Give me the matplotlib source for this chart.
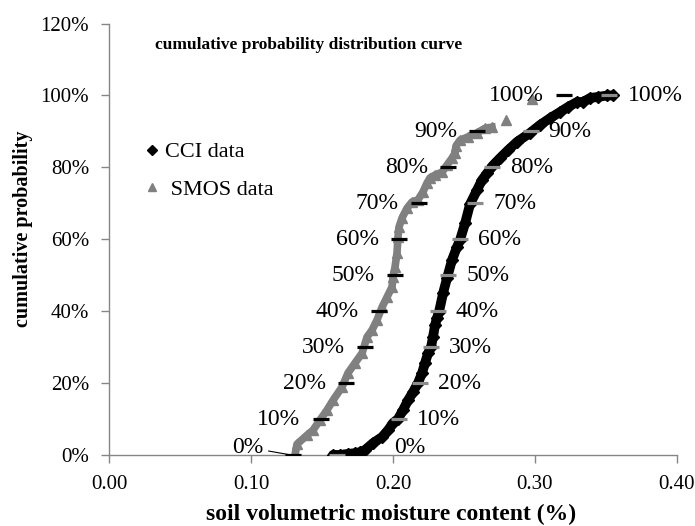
import matplotlib
matplotlib.use('Agg')
import matplotlib.pyplot as plt
from matplotlib.lines import Line2D
from matplotlib.ticker import FuncFormatter

plt.rcParams['font.family'] = ['Liberation Serif', 'DejaVu Serif']

# CCI points
cci_x = [0.1577, 0.1626, 0.1683, 0.1733, 0.1768, 0.1803, 0.1859, 0.1923, 0.1965, 0.2000,
         0.2035, 0.2071, 0.2106, 0.2141, 0.2176, 0.2205, 0.2226, 0.2247, 0.2268, 0.2282,
         0.2296, 0.2310, 0.2324, 0.2353, 0.2381, 0.2416, 0.2451, 0.2472, 0.2508, 0.2543,
         0.2592, 0.2627, 0.2663, 0.2705, 0.2754, 0.2811, 0.2874, 0.2966, 0.3036, 0.3107,
         0.3177, 0.3233, 0.3297, 0.3339, 0.3389, 0.3445, 0.3509, 0.3551]
cci_y = [0.001, 0.001, 0.004, 0.006, 0.009, 0.015, 0.034, 0.051, 0.070, 0.090,
         0.101, 0.126, 0.153, 0.176, 0.201, 0.229, 0.257, 0.284, 0.301, 0.329,
         0.362, 0.382, 0.398, 0.451, 0.493, 0.543, 0.579, 0.598, 0.645, 0.698,
         0.737, 0.765, 0.784, 0.806, 0.826, 0.848, 0.871, 0.896, 0.918, 0.937,
         0.954, 0.968, 0.982, 0.982, 0.993, 0.996, 1.000, 1.000]

# SMOS points
smos_x = [0.1309, 0.1323, 0.1394, 0.1436, 0.1485, 0.1535, 0.1577, 0.1641, 0.1683, 0.1733,
          0.1782, 0.1817, 0.1852, 0.1887, 0.1923, 0.1958, 0.1993, 0.2000, 0.2014, 0.2028,
          0.2035, 0.2042, 0.2064, 0.2099, 0.2134, 0.2176, 0.2211, 0.2240, 0.2261, 0.2296,
          0.2346, 0.2381, 0.2416, 0.2437, 0.2444, 0.2473, 0.2529, 0.2592, 0.2649, 0.2698,
          0.2797, 0.2980]
smos_y = [0.001, 0.031, 0.056, 0.070, 0.098, 0.126, 0.153, 0.190, 0.229, 0.257,
          0.284, 0.329, 0.348, 0.376, 0.412, 0.440, 0.468, 0.496, 0.523, 0.562,
          0.607, 0.634, 0.660, 0.687, 0.704, 0.710, 0.732, 0.757, 0.771, 0.779,
          0.787, 0.807, 0.826, 0.840, 0.860, 0.876, 0.885, 0.896, 0.909, 0.912,
          0.932, 0.991]

# decile marks
levels = [0.0, 0.1, 0.2, 0.3, 0.4, 0.5, 0.6, 0.7, 0.8, 0.9, 1.0]
level_labels = ['0%', '10%', '20%', '30%', '40%', '50%', '60%', '70%', '80%', '90%', '100%']
cci_dec = [0.1602, 0.2039, 0.2190, 0.2268, 0.2317, 0.2390, 0.2472, 0.2578, 0.2698, 0.2970, 0.3526]
smos_dec = [0.1295, 0.1489, 0.1669, 0.1803, 0.1901, 0.2014, 0.2039, 0.2180, 0.2391, 0.2592, 0.3202]

black = '#000000'
grey = '#808080'
dash_grey = '#8c8c8c'

fig = plt.figure(figsize=(6.95, 5.26), dpi=100)
ax = fig.add_axes([0.1573, 0.1344, 0.8164, 0.8209])

ax.plot(smos_x[:40], smos_y[:40], color=grey, lw=5.5, zorder=2)
ax.plot(smos_x, smos_y, '^', color=grey, ms=7.5, zorder=2)
ax.plot(cci_x, cci_y, color=black, lw=7, solid_capstyle='round', zorder=3)
ax.plot(cci_x, cci_y, 'D', color=black, ms=6, zorder=3)

ax.plot(smos_dec, levels, '_', color=black, ms=11.5, mew=2.3, zorder=4)
ax.plot(cci_dec, levels, '_', color=dash_grey, ms=11.5, mew=2.3, zorder=5)

lab_size = 17
for i in range(len(levels)):
    if i == 0:
        ax.annotate(level_labels[i], xy=(smos_dec[i], levels[i]), xytext=(-30, 8),
                    textcoords='offset pixels', ha='right', va='center', fontsize=lab_size,
                    arrowprops=dict(arrowstyle='-', color=black, lw=0.8,
                                    shrinkA=2, shrinkB=2))
        ax.annotate(level_labels[i], xy=(cci_dec[i], levels[i]), xytext=(58, 8),
                    textcoords='offset pixels', ha='left', va='center', fontsize=lab_size)
    else:
        ax.annotate(level_labels[i], xy=(smos_dec[i], levels[i]), xytext=(-20, 0),
                    textcoords='offset pixels', ha='right', va='center', fontsize=lab_size)
        ax.annotate(level_labels[i], xy=(cci_dec[i], levels[i]), xytext=(18, 0),
                    textcoords='offset pixels', ha='left', va='center', fontsize=lab_size)

ax.set_xlim(0, 0.4)
ax.set_ylim(0, 1.2)
ax.set_xticks([0.0, 0.1, 0.2, 0.3, 0.4])
ax.set_yticks([0.0, 0.2, 0.4, 0.6, 0.8, 1.0, 1.2])
ax.xaxis.set_major_formatter(FuncFormatter(lambda v, p: '{:.2f}'.format(v)))
ax.yaxis.set_major_formatter(FuncFormatter(lambda v, p: '{:.0f}%'.format(v * 100)))

for s in ['top', 'right']:
    ax.spines[s].set_visible(False)
for s in ['left', 'bottom']:
    ax.spines[s].set_color('#868686')
    ax.spines[s].set_linewidth(1)
ax.tick_params(axis='both', direction='out', length=5.5, width=1, color='#868686',
               labelsize=15, pad=9)

ax.text(0.352, 0.951, 'cumulative probability distribution curve', transform=ax.transAxes,
        ha='center', va='center', fontsize=12.5, fontweight='bold')
ax.set_xlabel('soil volumetric moisture content (%)', fontsize=17, fontweight='bold')
ax.xaxis.set_label_coords(0.4965, -0.112)
ax.set_ylabel('cumulative probability', fontsize=14.5, fontweight='bold')
ax.yaxis.set_label_coords(-0.1345, 0.524)

handles = [Line2D([], [], marker='D', color=black, ls='', ms=5),
           Line2D([], [], marker='^', color=grey, ls='', ms=6)]
ax.legend(handles, ['CCI data', ' SMOS data'], loc='upper left', bbox_to_anchor=(0.0642, 0.726),
          frameon=False, fontsize=16, handlelength=0.6, handletextpad=0.25,
          labelspacing=0.75, borderpad=0, borderaxespad=0)

fig.savefig('out.png', dpi=100)
